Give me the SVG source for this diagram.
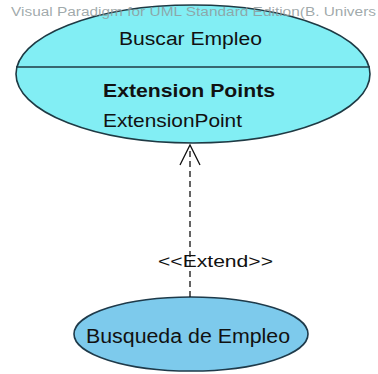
<svg xmlns="http://www.w3.org/2000/svg" width="378" height="374" viewBox="0 0 378 374">
<defs>
<style>
.uc1{fill:#82eef4;stroke:#1e3a44;stroke-width:1.6}
.uc2{fill:#7dcaec;stroke:#1e3a4a;stroke-width:1.6}
.t{font-family:"Liberation Sans",Arial,sans-serif;fill:#111}
.wm{font-family:"Liberation Sans",Arial,sans-serif;font-size:12px;fill:#8f9a9c;fill-opacity:0.85}
.conn{stroke:#111;stroke-width:1.3;fill:none}
</style>
</defs>
<rect width="378" height="374" fill="#ffffff"/>
<g id="buscar-empleo">
<ellipse class="uc1" cx="193" cy="74" rx="177" ry="69"/>
<line x1="16" y1="67" x2="370" y2="67" stroke="#1e3a44" stroke-width="1.5"/>
<text class="t" x="119" y="45" font-size="18" textLength="143" lengthAdjust="spacingAndGlyphs">Buscar Empleo</text>
<text class="t" x="103" y="97" font-size="19" font-weight="bold" textLength="172" lengthAdjust="spacingAndGlyphs">Extension Points</text>
<text class="t" x="103" y="127" font-size="19" textLength="139" lengthAdjust="spacingAndGlyphs">ExtensionPoint</text>
</g>
<g id="busqueda-empleo">
<ellipse class="uc2" cx="191" cy="334" rx="117" ry="37"/>
<text class="t" x="86" y="343" font-size="20" textLength="204" lengthAdjust="spacingAndGlyphs" fill="#14233a">Busqueda de Empleo</text>
</g>
<g id="connectors">
<line class="conn" x1="190" y1="297" x2="190" y2="147" stroke-dasharray="6,4"/>
<polyline class="conn" points="180,165 190,145 200,165"/>
<text class="t" x="158" y="267" font-size="17" textLength="115" lengthAdjust="spacingAndGlyphs">&lt;&lt;Extend&gt;&gt;</text>
</g>
<text class="wm" x="11" y="16" textLength="365" lengthAdjust="spacingAndGlyphs">Visual Paradigm for UML Standard Edition(B. Univers</text>
</svg>
